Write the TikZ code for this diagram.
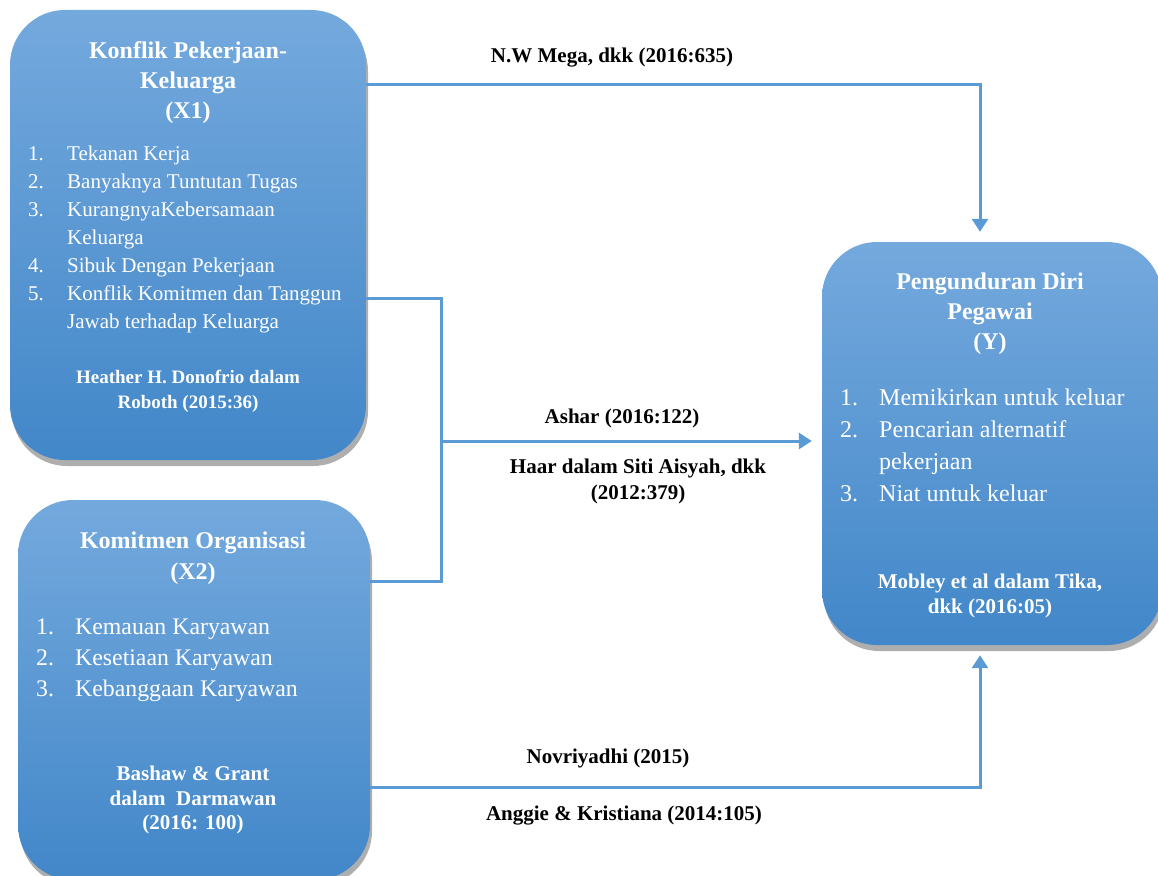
\documentclass[tikz,border=0pt]{standalone}
\usepackage{fontspec}
\setmainfont{Liberation Serif}
\usetikzlibrary{arrows.meta,shadows}
\definecolor{boxtop}{HTML}{74A9DD}
\definecolor{boxbot}{HTML}{4287C9}
\definecolor{linkblue}{HTML}{5B9BD5}
\newcommand{\itm}[2]{\makebox[39pt][l]{#1}#2}

\begin{document}
\begin{tikzpicture}[x=1pt,y=-1pt,
  varbox/.style={rectangle, rounded corners=55pt, top color=boxtop, bottom color=boxbot,
    inner sep=0pt, drop shadow={shadow xshift=2pt, shadow yshift=-6pt, opacity=0.45, fill=black!70}},
  title/.style={text=white, align=center, font=\bfseries\fontsize{24}{30}\selectfont},
  items/.style={text=white, align=left, anchor=west, inner sep=0pt},
  cite/.style={text=white, align=center, font=\bfseries\fontsize{19}{25}\selectfont},
  lbl/.style={font=\bfseries\fontsize{21}{26}\selectfont},
  link/.style={draw=linkblue, line width=3pt},
  arr/.style={link, -{Triangle[width=16pt,length=13pt]}, shorten >=10pt}]

  \useasboundingbox (0,0) rectangle (1158,875);

  % variable boxes
  \node[varbox, minimum width=356pt, minimum height=450pt] (x1) at (188,235) {};
  \node[varbox, minimum width=352pt, minimum height=380pt] (x2) at (194,690) {};
  \node[varbox, minimum width=340pt, minimum height=403pt] (y) at (992,443.5) {};

  % X1
  \node[title] (x1t) at (188,83) {Konflik Pekerjaan-\\Keluarga\\(X1)};
  \node[items, font=\fontsize{21}{28}\selectfont] (x1l) at (28,239)
    {\itm{1.}{Tekanan Kerja}\\ \itm{2.}{Banyaknya Tuntutan Tugas}\\
     \itm{3.}{KurangnyaKebersamaan}\\ \hspace*{39pt}Keluarga\\
     \itm{4.}{Sibuk Dengan Pekerjaan}\\ \itm{5.}{Konflik Komitmen dan Tanggun}\\
     \hspace*{39pt}Jawab terhadap Keluarga};
  \node[cite] (x1c) at (188,391) {Heather H. Donofrio dalam\\Roboth (2015:36)};

  % X2
  \node[title, font=\bfseries\fontsize{24}{31}\selectfont] (x2t) at (193,558) {Komitmen Organisasi\\(X2)};
  \node[items, font=\fontsize{23.8}{31}\selectfont] (x2l) at (36,660)
    {\itm{1.}{Kemauan Karyawan}\\ \itm{2.}{Kesetiaan Karyawan}\\ \itm{3.}{Kebanggaan Karyawan}};
  \node[cite, font=\bfseries\fontsize{21}{24.5}\selectfont] (x2c) at (193,800) {Bashaw \& Grant\\dalam\ \ Darmawan\\(2016: 100)};

  % Y
  \node[title] (yt) at (990,314) {Pengunduran Diri\\Pegawai\\(Y)};
  \node[items, font=\fontsize{24}{32}\selectfont] (yl) at (840,445)
    {\itm{1.}{Memikirkan untuk keluar}\\ \itm{2.}{Pencarian alternatif}\\
     \hspace*{39pt}pekerjaan\\ \itm{3.}{Niat untuk keluar}};
  \node[cite, font=\bfseries\fontsize{21}{25}\selectfont] (yc) at (990,596) {Mobley et al dalam Tika,\\dkk (2016:05)};

  % connectors
  \coordinate (tr) at (980,84);
  \coordinate (jn) at (441,441);
  \coordinate (br) at (980,787);
  \draw[arr] (x1.east |- tr) -- (tr) -- (y.north -| tr);
  \draw[link] (x1.east |- 0,298) -| (jn |- 0,581) -- (x2.east |- 0,581);
  \draw[arr] (jn) -- (y.west |- jn);
  \draw[arr] (x2.east |- br) -- (br) -- (y.south -| br);

  % connector labels
  \node[lbl] (l1) at (612,58) {N.W Mega, dkk (2016:635)};
  \node[lbl] (l2) at (622,418) {Ashar (2016:122)};
  \node[lbl, align=center] (l3) at (638,481) {Haar dalam Siti Aisyah, dkk\\(2012:379)};
  \node[lbl] (l4) at (608,758) {Novriyadhi (2015)};
  \node[lbl] (l5) at (624,816) {Anggie \& Kristiana (2014:105)};
\end{tikzpicture}
\end{document}
